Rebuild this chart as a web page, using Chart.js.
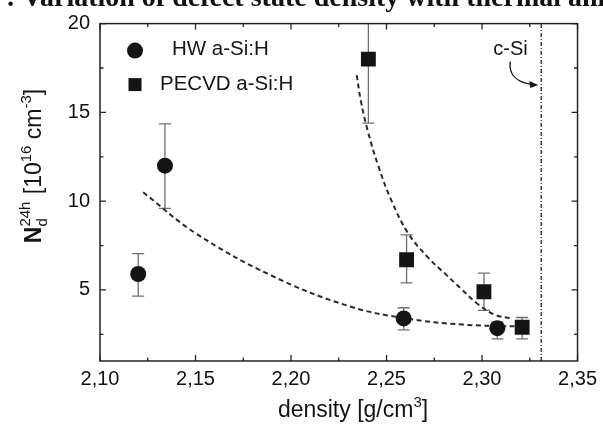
<!DOCTYPE html>
<html>
<head>
<meta charset="utf-8">
<script src="https://cdn.jsdelivr.net/npm/chart.js@4/dist/chart.umd.min.js"></script>
<style>
  html, body { margin: 0; padding: 0; background: #fff; }
  #wrap { position: relative; width: 603px; height: 429px; overflow: hidden; background: #fff; }
  canvas { position: absolute; left: 0; top: 0; }
</style>
</head>
<body>
<div id="wrap"><canvas id="c" width="603" height="429"></canvas></div>
<script>
// ---------- data ----------
const hwDensity  = [2.120, 2.134, 2.259, 2.308];
const hwNd       = [5.9, 12.0, 3.4, 2.85];
const hwErrLow   = [4.65, 9.6, 2.75, 2.25];
const hwErrHigh  = [7.05, 14.35, 4.0, 3.2];

const peDensity  = [2.2405, 2.2605, 2.301, 2.321];
const peNd       = [18.0, 6.7, 4.9, 2.9];
const peErrLow   = [14.4, 5.4, 3.85, 2.25];
const peErrHigh  = [21.6, 8.1, 5.95, 3.45];

const hwFitX = [2.1226, 2.150, 2.190, 2.230, 2.260, 2.290, 2.317];
const hwFitY = [10.5, 8.2, 5.8, 4.1, 3.4, 3.05, 2.95];

const peFitX = [2.2344, 2.2365, 2.2401, 2.2458, 2.2526, 2.2615, 2.2719, 2.2807, 2.2891, 2.2979, 2.3068, 2.3151];
const peFitY = [17.10, 15.68, 13.99, 11.95, 10.03, 8.16, 6.81, 5.91, 5.06, 4.2, 3.6, 3.4];

const cSiDensity = 2.331;

const xTickValues = [2.10, 2.15, 2.20, 2.25, 2.30, 2.35];
const xTickLabels = ['2,10', '2,15', '2,20', '2,25', '2,30', '2,35'];
const xMinorValues = [2.125, 2.175, 2.225, 2.275, 2.325];
const yTickValues = [5, 10, 15, 20];
const yTickLabels = ['5', '10', '15', '20'];
const yMinorValues = [2.5, 7.5, 12.5, 17.5];

const seriesNames = ['HW a-Si:H', 'PECVD a-Si:H'];
const headerText = ': Variation of defect state density with thermal annealing';

// ---------- helpers ----------
const pts = (xs, ys) => xs.map((x, i) => ({ x: x, y: ys[i] }));
const INK = '#141414';
const SANS = "'Liberation Sans', Arial, sans-serif";

const decorPlugin = {
  id: 'decor',
  beforeDatasetsDraw(chart) {
    const { ctx, scales: { x, y }, chartArea: a } = chart;
    ctx.save();
    ctx.beginPath();
    ctx.rect(a.left, a.top, a.right - a.left, a.bottom - a.top);
    ctx.clip();
    ctx.strokeStyle = '#707070';
    ctx.lineWidth = 1.3;
    const cap = 6;
    const drawErr = (xs, lo, hi) => {
      xs.forEach((xv, i) => {
        const px = x.getPixelForValue(xv);
        const pl = y.getPixelForValue(lo[i]);
        const ph = y.getPixelForValue(hi[i]);
        ctx.beginPath();
        ctx.moveTo(px, pl); ctx.lineTo(px, ph);
        ctx.moveTo(px - cap, pl); ctx.lineTo(px + cap, pl);
        ctx.moveTo(px - cap, ph); ctx.lineTo(px + cap, ph);
        ctx.stroke();
      });
    };
    drawErr(hwDensity, hwErrLow, hwErrHigh);
    drawErr(peDensity, peErrLow, peErrHigh);
    ctx.restore();
  },
  afterDraw(chart) {
    const { ctx, scales: { x, y }, chartArea: a } = chart;
    ctx.save();
    // frame
    ctx.strokeStyle = '#222';
    ctx.lineWidth = 1.5;
    ctx.strokeRect(a.left, a.top, a.right - a.left, a.bottom - a.top);
    // inward ticks on all four sides
    ctx.lineWidth = 1.3;
    const tick = (vals, len, horiz) => {
      vals.forEach(v => {
        ctx.beginPath();
        if (horiz) {
          const p = x.getPixelForValue(v);
          ctx.moveTo(p, a.bottom); ctx.lineTo(p, a.bottom - len);
          ctx.moveTo(p, a.top); ctx.lineTo(p, a.top + len);
        } else {
          const p = y.getPixelForValue(v);
          ctx.moveTo(a.left, p); ctx.lineTo(a.left + len, p);
          ctx.moveTo(a.right, p); ctx.lineTo(a.right - len, p);
        }
        ctx.stroke();
      });
    };
    tick(xTickValues, 6, true);
    tick(xMinorValues, 3.5, true);
    tick(yTickValues, 6, false);
    tick(yMinorValues, 3.5, false);

    // legend
    ctx.fillStyle = INK;
    ctx.beginPath();
    ctx.arc(a.left + 35, a.top + 27, 8, 0, Math.PI * 2);
    ctx.fill();
    ctx.fillRect(a.left + 35 - 6.5, a.top + 61 - 6.5, 13, 13);
    ctx.font = '20.5px ' + SANS;
    ctx.textBaseline = 'middle';
    ctx.textAlign = 'left';
    ctx.fillText(seriesNames[0], a.left + 72, a.top + 26);
    ctx.fillText(seriesNames[1], a.left + 60, a.top + 61);

    // c-Si annotation
    const lx = x.getPixelForValue(cSiDensity);
    ctx.font = '20px ' + SANS;
    ctx.fillText('c-Si', lx - 48, a.top + 26);
    ctx.strokeStyle = INK;
    ctx.lineWidth = 1.4;
    const ax0 = lx - 31, ay0 = a.top + 38;
    const ax1 = lx - 5, ay1 = a.top + 61;
    ctx.beginPath();
    ctx.moveTo(ax0, ay0);
    ctx.bezierCurveTo(ax0 - 2, ay0 + 14, ax0 + 8, ay1 - 2, ax1 - 4, ay1);
    ctx.stroke();
    ctx.beginPath();
    ctx.moveTo(ax1 + 2, ay1 + 0.5);
    ctx.lineTo(ax1 - 7, ay1 - 3.5);
    ctx.lineTo(ax1 - 6, ay1 + 3.5);
    ctx.closePath();
    ctx.fill();

    // x axis title
    ctx.textBaseline = 'alphabetic';
    const big = 23, small = 15;
    ctx.font = big + 'px ' + SANS;
    const t1 = 'density [g/cm', t2 = '3', t3 = ']';
    const w1 = ctx.measureText(t1).width, w3 = ctx.measureText(t3).width;
    ctx.font = small + 'px ' + SANS;
    const w2 = ctx.measureText(t2).width;
    let sx = 353 - (w1 + w2 + w3) / 2;
    const by = 417;
    ctx.font = big + 'px ' + SANS;
    ctx.fillText(t1, sx, by); sx += w1;
    ctx.font = small + 'px ' + SANS;
    ctx.fillText(t2, sx, by - 10); sx += w2;
    ctx.font = big + 'px ' + SANS;
    ctx.fillText(t3, sx, by);

    // y axis title (rotated)
    ctx.save();
    ctx.translate(41, 0);
    ctx.rotate(-Math.PI / 2);
    const parts = [
      { t: 'N', f: 23, dy: 0, bold: true },
      { t: 'd', f: 15, dy: 6, stack: '24h' },
      { t: ' [10', f: 23, dy: 0 },
      { t: '16', f: 15, dy: -10 },
      { t: ' cm', f: 23, dy: 0 },
      { t: '-3', f: 15, dy: -10 },
      { t: ']', f: 23, dy: 0 }
    ];
    let total = 0;
    parts.forEach(p => {
      ctx.font = (p.bold ? 'bold ' : '') + p.f + 'px ' + SANS;
      let w = ctx.measureText(p.t).width;
      if (p.stack) w = Math.max(w, ctx.measureText(p.stack).width);
      p.w = w + (p.stack ? 1 : 0);
      total += p.w;
    });
    let cx = -166 - total / 2;
    parts.forEach(p => {
      ctx.font = (p.bold ? 'bold ' : '') + p.f + 'px ' + SANS;
      ctx.fillText(p.t, cx, p.dy);
      if (p.stack) ctx.fillText(p.stack, cx, -11);
      cx += p.w;
    });
    ctx.restore();

    // header text cut off at the top
    ctx.font = "bold 28px 'Liberation Serif', 'Times New Roman', serif";
    ctx.fillStyle = '#111';
    ctx.fillText(headerText, 6, 6);
    ctx.restore();
  }
};

new Chart(document.getElementById('c'), {
  type: 'scatter',
  data: {
    datasets: [
      {
        label: seriesNames[0],
        data: pts(hwDensity, hwNd),
        pointStyle: 'circle',
        pointRadius: 8,
        backgroundColor: INK,
        borderColor: INK,
        borderWidth: 0,
        order: 1
      },
      {
        label: seriesNames[1],
        data: pts(peDensity, peNd),
        pointStyle: 'rect',
        pointRadius: 10.5,
        backgroundColor: INK,
        borderColor: INK,
        borderWidth: 0,
        order: 1
      },
      {
        label: 'HW fit',
        data: pts(hwFitX, hwFitY),
        showLine: true,
        pointRadius: 0,
        borderColor: '#2a2a2a',
        borderWidth: 2,
        borderDash: [5, 3.5],
        tension: 0.4,
        order: 2
      },
      {
        label: 'PECVD fit',
        data: pts(peFitX, peFitY),
        showLine: true,
        pointRadius: 0,
        borderColor: '#2a2a2a',
        borderWidth: 2,
        borderDash: [5, 3.5],
        tension: 0.4,
        order: 2
      },
      {
        label: 'c-Si',
        data: [{ x: cSiDensity, y: 1 }, { x: cSiDensity, y: 20 }],
        showLine: true,
        pointRadius: 0,
        borderColor: '#333',
        borderWidth: 1.4,
        borderDash: [4, 2, 1, 2],
        order: 3
      }
    ]
  },
  options: {
    responsive: false,
    animation: false,
    devicePixelRatio: 1,
    layout: { padding: { top: 23.6, right: 23, left: 0, bottom: 0 } },
    plugins: { legend: { display: false }, tooltip: { enabled: false }, title: { display: false } },
    scales: {
      x: {
        type: 'linear',
        min: 2.10,
        max: 2.35,
        afterBuildTicks: s => { s.ticks = xTickValues.map(v => ({ value: v })); },
        afterFit: s => { s.height = 68; },
        grid: { display: false, drawTicks: false },
        border: { display: false },
        ticks: {
          callback: (v, i) => xTickLabels[i],
          font: { family: SANS, size: 20 },
          color: '#111',
          padding: 6,
          maxRotation: 0,
          autoSkip: false
        }
      },
      y: {
        type: 'linear',
        min: 1,
        max: 20,
        afterBuildTicks: s => { s.ticks = yTickValues.map(v => ({ value: v })); },
        afterFit: s => { s.width = 100; },
        grid: { display: false, drawTicks: false },
        border: { display: false },
        ticks: {
          callback: (v, i) => yTickLabels[i],
          font: { family: SANS, size: 20 },
          color: '#111',
          padding: 10,
          autoSkip: false
        }
      }
    }
  },
  plugins: [decorPlugin]
});
</script>
</body>
</html>
